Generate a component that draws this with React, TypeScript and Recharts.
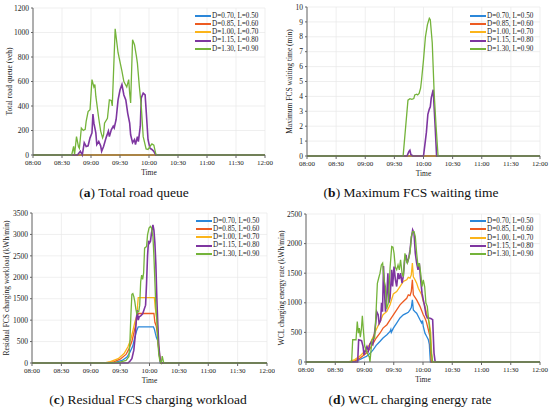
import React from 'react';
import { LineChart, Line, XAxis, YAxis, CartesianGrid } from 'recharts';

type Pt = [number, number];

// ---------- shared ----------
const timeTicks = [0, 30, 60, 90, 120, 150, 180, 210, 240];
const timeLabels = ['08:00', '08:30', '09:00', '09:30', '10:00', '10:30', '11:00', '11:30', '12:00'];
const seriesNames = ['D=0.70, L=0.50', 'D=0.85, L=0.60', 'D=1.00, L=0.70', 'D=1.15, L=0.80', 'D=1.30, L=0.90'];
const seriesColors = ['#2b87d9', '#ed5b21', '#fbb41a', '#7e36a0', '#74b33a'];

// ---------- (a) Total road queue (veh) ----------
const queueTicks = [0, 200, 400, 600, 800, 1000, 1200];
const queue070: Pt[] = [[0, 0], [240, 0]];
const queue085: Pt[] = [[0, 0], [240, 0]];
const queue100: Pt[] = [[0, 0], [240, 0]];
const queue115: Pt[] = [[0, 0], [46, 0], [49, 30], [51, 0], [53, 100], [55, 70], [57, 75], [59, 140], [61, 180], [62, 335], [63, 260], [65, 180], [66, 85], [68, 110], [70, 75], [71, 30], [73, 70], [75, 125], [76, 150], [78, 195], [79, 150], [81, 205], [83, 235], [84, 220], [86, 290], [87, 370], [88, 450], [90, 530], [92, 575], [94, 490], [96, 450], [98, 340], [100, 260], [101, 165], [103, 100], [105, 125], [106, 85], [108, 150], [109, 110], [111, 235], [112, 465], [114, 505], [116, 490], [117, 370], [119, 125], [121, 55], [123, 45], [125, 30], [127, 0], [240, 0]];
const queue130: Pt[] = [[0, 0], [40, 0], [42, 70], [43, 5], [45, 150], [47, 70], [48, 55], [50, 220], [52, 200], [54, 210], [55, 275], [57, 355], [59, 370], [61, 615], [63, 555], [64, 575], [65, 480], [68, 300], [70, 195], [72, 140], [73, 165], [74, 260], [77, 300], [79, 450], [81, 445], [82, 400], [85, 1030], [88, 835], [92, 685], [94, 600], [97, 555], [99, 615], [100, 505], [101, 425], [103, 940], [105, 900], [107, 805], [108, 750], [110, 560], [112, 400], [114, 150], [117, 50], [119, 45], [121, 70], [123, 90], [125, 80], [127, 10], [128, 0], [240, 0]];

// ---------- (b) Maximum FCS waiting time (min) ----------
const waitTicks = [0, 1, 2, 3, 4, 5, 6, 7, 8, 9, 10];
const wait070: Pt[] = [[0, 0], [240, 0]];
const wait085: Pt[] = [[0, 0], [240, 0]];
const wait100: Pt[] = [[0, 0], [240, 0]];
const wait115: Pt[] = [[0, 0], [103, 0], [105, 0.3], [106, 0.38], [107, 0.1], [108, 0.05], [109, 0], [120, 0], [123, 1.6], [124.5, 2.8], [126, 3.15], [127, 3.3], [128, 3.9], [130, 4.45], [132, 2.0], [133.5, 0], [240, 0]];
const wait130: Pt[] = [[0, 0], [99, 0], [104, 3.75], [106, 3.85], [108, 3.8], [110, 3.85], [111, 4.1], [113, 4.15], [114, 4.1], [115.5, 4.2], [117, 4.55], [118, 5.1], [120, 6.45], [122, 8.0], [124, 8.8], [126, 9.25], [127, 9.15], [129, 7.6], [131, 4.2], [133, 1.95], [135, 0], [240, 0]];

// ---------- (c) Residual FCS charging workload (kWh/min) ----------
const workTicks = [0, 500, 1000, 1500, 2000, 2500, 3000, 3500];
const work070: Pt[] = [[0, 0], [78, 0], [85, 15], [92, 60], [97, 140], [100, 250], [103, 400], [105, 600], [107, 760], [108.5, 845], [124, 845], [125, 790], [126, 690], [127, 600], [128, 540], [128.5, 560], [129, 450], [130, 200], [131, 0], [240, 0]];
const work085: Pt[] = [[0, 0], [76, 0], [84, 30], [90, 90], [96, 200], [99, 330], [102, 500], [104, 700], [106, 900], [107.5, 1100], [108.5, 1155], [124.5, 1155], [125.5, 950], [127, 850], [128, 700], [129, 400], [130.5, 100], [131.5, 0], [240, 0]];
const work100: Pt[] = [[0, 0], [74, 0], [80, 30], [88, 100], [94, 220], [98, 380], [101, 560], [103, 750], [105, 950], [107, 1100], [108.5, 1525], [125, 1525], [125.8, 1300], [127, 1100], [128, 900], [129, 500], [130.5, 150], [132, 0], [240, 0]];
const work115: Pt[] = [[0, 0], [98, 0], [100, 40], [102, 100], [104, 300], [105.5, 650], [106.5, 1000], [107.5, 1230], [108.5, 1000], [109.5, 1080], [111, 1100], [113, 1150], [114.5, 1250], [116, 1350], [117, 1860], [118, 2500], [119, 2850], [120, 2800], [121, 2840], [122, 3030], [123.5, 3225], [124.5, 3100], [125.5, 2800], [126.5, 2300], [127.5, 1500], [128.5, 900], [129.5, 400], [131, 50], [132, 0], [240, 0]];
const work130: Pt[] = [[0, 0], [80, 0], [90, 20], [96, 60], [99, 150], [100, 500], [101, 1120], [102, 1600], [103, 1620], [104, 1550], [105, 1430], [106, 1270], [107, 1150], [108, 1200], [109, 1200], [110, 1350], [111, 1900], [112, 2050], [113, 1950], [114, 2100], [115, 2680], [117, 2720], [118, 2990], [119.5, 3150], [121, 3190], [122, 3150], [123.5, 2950], [124.5, 2500], [125.5, 1900], [126.5, 1300], [127.5, 1000], [128.5, 500], [129.5, 200], [130.5, 60], [132, 0], [133, 160], [134.5, 0], [240, 0]];

// ---------- (d) WCL charging energy rate (kWh/min) ----------
const rateTicks = [0, 500, 1000, 1500, 2000, 2500];
const rate070: Pt[] = [[0, 0], [44, 0], [50, 10], [55, 40], [60, 80], [62, 95], [66, 150], [69, 210], [72, 280], [76, 350], [79, 405], [83, 460], [86.2, 515], [87, 550], [87.5, 500], [89.6, 572], [93, 657], [96.4, 743], [99.8, 797], [103.3, 825], [104.9, 840], [106.7, 880], [108, 920], [109.1, 1050], [110.1, 880], [111.8, 850], [113.5, 825], [116.9, 713], [118.6, 660], [119.5, 700], [120.3, 600], [122, 487], [123.8, 432], [125.5, 376], [126.5, 300], [127, 150], [127.6, 0], [240, 0]];
const rate085: Pt[] = [[0, 0], [44, 0], [50, 20], [55, 60], [62, 150], [66, 235], [69, 320], [72, 405], [76, 490], [79, 573], [83, 630], [86.2, 713], [89.6, 797], [93, 880], [96.4, 965], [99.8, 1022], [103.3, 1077], [104.9, 1135], [106.7, 1120], [108, 1190], [109.1, 1388], [110.1, 1135], [113.5, 1050], [116.9, 940], [120.3, 797], [121.5, 760], [123, 700], [123.8, 657], [125.5, 545], [126.5, 470], [127.2, 432], [127.9, 150], [128.6, 0], [240, 0]];
const rate100: Pt[] = [[0, 0], [43, 0], [50, 40], [55, 95], [62, 210], [66, 320], [69, 430], [72, 545], [76, 685], [79, 800], [83, 855], [86.2, 966], [89.6, 1150], [93, 1190], [96.4, 1275], [99.8, 1360], [103.3, 1388], [104.9, 1430], [106.7, 1416], [108, 1472], [109.1, 1670], [110.1, 1440], [111.8, 1390], [113.5, 1332], [115.2, 1247], [116.9, 1190], [118.6, 1135], [120.3, 1022], [122, 940], [123.8, 825], [125.5, 713], [126.5, 657], [127.9, 487], [128.9, 150], [129.9, 0], [240, 0]];
const rate115: Pt[] = [[0, 0], [53, 0], [54, 376], [57, 360], [58.5, 264], [59.5, 120], [61, 200], [62.5, 260], [64, 190], [65.5, 300], [67, 340], [68.5, 300], [70, 450], [71.5, 650], [72.5, 850], [74, 800], [75, 650], [76.5, 700], [77.5, 1000], [78.5, 850], [79.5, 1620], [80.5, 1200], [81.5, 850], [82.5, 1000], [84, 1500], [85, 1000], [86.2, 1077], [87.9, 1557], [88.8, 1275], [90.3, 1612], [91.6, 1400], [93, 1275], [94.4, 1500], [95.7, 1400], [97, 1500], [98.5, 1332], [99.8, 1450], [101.2, 1725], [102.6, 1810], [103.9, 1670], [105.3, 1750], [106.7, 1894], [108, 2090], [109.4, 2230], [110.8, 2175], [112.1, 1837], [113.5, 1670], [114.9, 1557], [116.2, 1670], [117.6, 1388], [119, 1163], [120.3, 1050], [121.7, 940], [123, 800], [124.4, 743], [126, 743], [128, 735], [129.9, 715], [131.3, 150], [132.5, 0], [240, 0]];
const rate130: Pt[] = [[0, 0], [46.8, 0], [47.9, 376], [51.3, 376], [52.6, 685], [53.7, 487], [54.7, 572], [55.7, 420], [56.8, 550], [57.8, 780], [58.8, 550], [60.2, 270], [61.5, 206], [62.9, 150], [65, 80], [65.6, 0], [66.7, 200], [67.7, 376], [69.1, 404], [70.4, 404], [71.8, 828], [73.2, 1330], [74.5, 1415], [75.9, 1500], [77.3, 1640], [78.6, 1670], [80, 1390], [81.4, 1280], [82.7, 900], [84.5, 1000], [86.2, 1585], [87.9, 1950], [89.2, 1940], [90.3, 1837], [91.6, 1600], [93, 1557], [94.4, 1640], [95.7, 1557], [97, 1725], [98.5, 1500], [99.8, 1440], [101.5, 1837], [102.6, 1725], [103.9, 1670], [105.3, 1753], [106.7, 1837], [108, 2118], [109.4, 2203], [110.8, 2203], [112.1, 2118], [113.5, 1837], [114.9, 1612], [116.2, 1670], [117.6, 1500], [119, 1275], [120.3, 1388], [121.7, 1275], [123, 995], [124.4, 940], [125.8, 713], [127.2, 487], [128.5, 150], [129.9, 0], [240, 0]];

// ---------- rendering ----------
const FONT = '"Liberation Serif", "Times New Roman", serif';
const toData = (pts: Pt[]) => pts.map(([t, v]) => ({ t, v }));
const fmtTime = (t: number) => timeLabels[timeTicks.indexOf(t)] ?? '';

type PanelProps = {
  left: number; top: number; height: number;
  mTop: number; mRight: number; yWidth: number;
  yMax: number; yTicks: number[]; yLabel: string; yLabelOffset: number;
  series: Pt[][];
};

function Panel(p: PanelProps) {
  return (
    <div style={{ position: 'absolute', left: p.left, top: p.top }}>
      <LineChart width={275} height={p.height} margin={{ top: p.mTop, right: p.mRight, left: 0, bottom: 0 }}>
        <CartesianGrid stroke="#e8e8e8" strokeWidth={0.7} />
        <XAxis
          type="number" dataKey="t" domain={[0, 240]} ticks={timeTicks} interval={0}
          tickFormatter={fmtTime} height={25} tickSize={3}
          tick={{ fontSize: 7, fill: '#222' }} stroke="#666"
          label={{ value: 'Time', position: 'insideBottom', offset: 5, style: { fontSize: 7.5, fill: '#222' } }}
        />
        <YAxis
          type="number" domain={[0, p.yMax]} ticks={p.yTicks} interval={0} width={p.yWidth}
          tickSize={2} tick={{ fontSize: 7.5, fill: '#222' }} stroke="#666"
          label={{ value: p.yLabel, angle: -90, position: 'insideLeft', offset: p.yLabelOffset, style: { textAnchor: 'middle', fontSize: 7.5, fill: '#222' } }}
        />
        {p.series.map((s, i) => (
          <Line key={i} data={toData(s)} dataKey="v" type="linear" stroke={seriesColors[i]}
            strokeWidth={i === 3 ? 1.6 : 1.3} dot={false} activeDot={false} isAnimationActive={false} />
        ))}
      </LineChart>
    </div>
  );
}

function LegendBox({ left, top }: { left: number; top: number }) {
  return (
    <div style={{ position: 'absolute', left, top }}>
      {seriesNames.map((n, i) => (
        <div key={i} style={{ height: 8.33, display: 'flex', alignItems: 'center' }}>
          <div style={{ width: 16, height: 2, background: seriesColors[i], marginRight: 1 }} />
          <span style={{ fontSize: 7.2, lineHeight: '8.33px', color: '#222', whiteSpace: 'nowrap' }}>{n}</span>
        </div>
      ))}
    </div>
  );
}

function Caption({ cx, cy, letter, text }: { cx: number; cy: number; letter: string; text: string }) {
  return (
    <div style={{ position: 'absolute', left: cx - 150, top: cy - 8, width: 300, textAlign: 'center', fontSize: 13.5, lineHeight: '16px', color: '#111', whiteSpace: 'nowrap' }}>
      (<b>{letter}</b>) {text}
    </div>
  );
}

export default function App() {
  return (
    <div style={{ position: 'absolute', left: 0, top: 0, width: 550, height: 409, background: '#fff', fontFamily: FONT, overflow: 'hidden' }}>
      <Panel left={0} top={0} height={180} mTop={8} mRight={10} yWidth={33} yMax={1200} yTicks={queueTicks}
        yLabel="Total road queue (veh)" yLabelOffset={9} series={[queue070, queue085, queue100, queue115, queue130]} />
      <Panel left={275} top={0} height={181} mTop={7} mRight={10} yWidth={32} yMax={10} yTicks={waitTicks}
        yLabel="Maximum FCS waiting time (min)" yLabelOffset={14} series={[wait070, wait085, wait100, wait115, wait130]} />
      <Panel left={0} top={200} height={188} mTop={13} mRight={8} yWidth={32} yMax={3500} yTicks={workTicks}
        yLabel="Residual FCS charging workload (kWh/min)" yLabelOffset={6} series={[work070, work085, work100, work115, work130]} />
      <Panel left={275} top={200} height={187} mTop={14} mRight={10} yWidth={31} yMax={2500} yTicks={rateTicks}
        yLabel="WCL charging energy rate (kWh/min)" yLabelOffset={6} series={[rate070, rate085, rate100, rate115, rate130]} />

      <LegendBox left={195} top={11.5} />
      <LegendBox left={470} top={11.5} />
      <LegendBox left={196} top={216.5} />
      <LegendBox left={470} top={217} />

      <Caption cx={134} cy={193} letter="a" text="Total road queue" />
      <Caption cx={411} cy={193} letter="b" text="Maximum FCS waiting time" />
      <Caption cx={148} cy={400} letter="c" text="Residual FCS charging workload" />
      <Caption cx={410} cy={400} letter="d" text="WCL charging energy rate" />
    </div>
  );
}
